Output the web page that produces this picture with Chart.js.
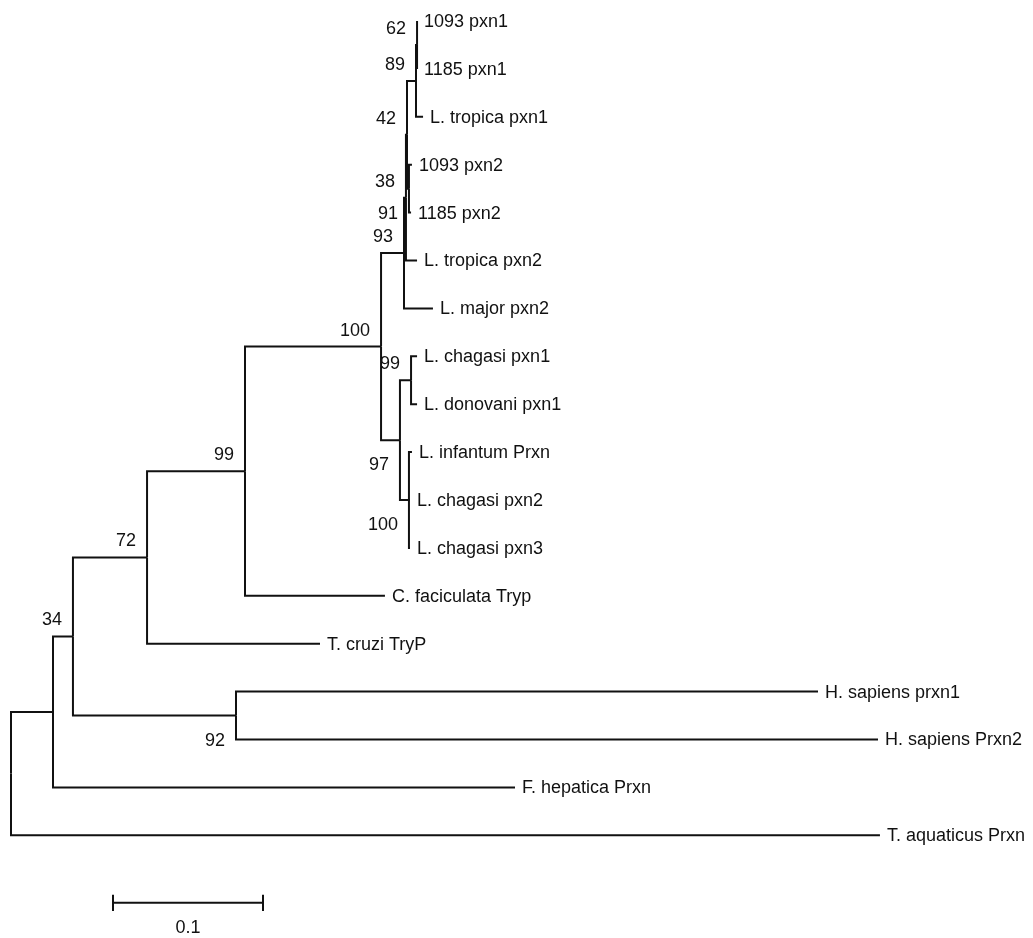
<!DOCTYPE html>
<html>
<head>
<meta charset="utf-8">
<script src="https://cdn.jsdelivr.net/npm/chart.js@4.4.1/dist/chart.umd.min.js"></script>
<style>
  html,body{margin:0;padding:0;background:#fff;}
  #wrap{position:relative;width:1033px;height:938px;}
</style>
</head>
<body>
<div id="wrap"><canvas id="tree"></canvas></div>
<script>
// leaves, top to bottom (row index = position in this list)
const leafNames = [
  '1093 pxn1', '1185 pxn1', 'L. tropica pxn1', '1093 pxn2', '1185 pxn2',
  'L. tropica pxn2', 'L. major pxn2', 'L. chagasi pxn1', 'L. donovani pxn1',
  'L. infantum Prxn', 'L. chagasi pxn2', 'L. chagasi pxn3', 'C. faciculata Tryp',
  'T. cruzi TryP', 'H. sapiens prxn1', 'H. sapiens Prxn2', 'F. hepatica Prxn',
  'T. aquaticus Prxn'
];
const leafParents = ['N62','N62','N89','R','R','P','F','G1','G1','G2','G2','G2','D','C','H','H','A','root'];
// distance from the root to each tip
const leafDepths = [
  0.2707, 0.2707, 0.2747, 0.2673, 0.2667, 0.2707, 0.2813, 0.2707, 0.2707,
  0.2673, 0.266, 0.266, 0.2493, 0.206, 0.538, 0.578, 0.336, 0.5793
];

// internal nodes
const nodeIds     = ['root','A','B','C','D','E','F','P','Q','N89','N62','R','G','G1','G2','H'];
const nodeParents = [null,'root','A','B','C','D','E','F','P','Q','N89','Q','E','G','G','B'];
const nodeDepths  = [0, 0.028, 0.0413, 0.0907, 0.156, 0.2467, 0.262, 0.2633, 0.264, 0.27, 0.2707, 0.2653, 0.2593, 0.2667, 0.2653, 0.15];
const bootstrap   = [null, null, 34, 72, 99, 100, 93, 38, 42, 89, 62, 91, 97, 99, 100, 92];
const labelBelow  = ['G','G2','H','R'];

const scaleBarStart = 0.068;
const scaleBarLength = 0.1;
const scaleBarLabel = '0.1';

// ---- layout helpers ----
const PX_PER_UNIT = 1500, LEFT_PX = 11, ROW_PX = 47.9, TOP_PX = 21;
const W = 1033, H = 938;
const scaleBarRow = 18.41;

// y of each node: midpoint of its outermost children
const nodeY = {};
function childrenOf(id){
  const kids = [];
  nodeIds.forEach((n,i)=>{ if(nodeParents[i] === id) kids.push({type:'node', id:n}); });
  leafParents.forEach((p,i)=>{ if(p === id) kids.push({type:'leaf', i}); });
  return kids;
}
function yOf(id){
  if(nodeY[id] !== undefined) return nodeY[id];
  const ys = childrenOf(id).map(k => k.type === 'leaf' ? k.i : yOf(k.id));
  nodeY[id] = (Math.min(...ys) + Math.max(...ys)) / 2;
  return nodeY[id];
}
nodeIds.forEach(yOf);
const depthOf = id => nodeDepths[nodeIds.indexOf(id)];

const lineStyle = { showLine:true, borderColor:'#111', borderWidth:2, pointRadius:0, fill:false, tension:0 };
const datasets = [];
// one elbow per branch: along the parent's vertical, then across to the child
nodeIds.forEach((id,i)=>{
  const p = nodeParents[i];
  if(!p) return;
  datasets.push({ ...lineStyle, data:[{x:depthOf(p), y:yOf(p)}, {x:depthOf(p), y:yOf(id)}, {x:nodeDepths[i], y:yOf(id)}] });
});
leafParents.forEach((p,i)=>{
  datasets.push({ ...lineStyle, data:[{x:depthOf(p), y:yOf(p)}, {x:depthOf(p), y:i}, {x:leafDepths[i], y:i}] });
});
// scale bar
const sb0 = scaleBarStart, sb1 = scaleBarStart + scaleBarLength;
datasets.push({ ...lineStyle, data:[{x:sb0, y:scaleBarRow}, {x:sb1, y:scaleBarRow}] });
datasets.push({ ...lineStyle, data:[{x:sb0, y:scaleBarRow-0.17}, {x:sb0, y:scaleBarRow+0.17}] });
datasets.push({ ...lineStyle, data:[{x:sb1, y:scaleBarRow-0.17}, {x:sb1, y:scaleBarRow+0.17}] });

const FONT = '18px "Liberation Sans", Arial, sans-serif';

const treeLabels = {
  id:'treeLabels',
  afterDatasetsDraw(chart){
    const {ctx, scales:{x, y}} = chart;
    ctx.save();
    ctx.fillStyle = '#111';
    ctx.font = FONT;
    ctx.textBaseline = 'middle';
    ctx.textAlign = 'left';
    leafNames.forEach((name,i)=>{
      ctx.fillText(name, x.getPixelForValue(leafDepths[i]) + 7, y.getPixelForValue(i) + 1);
    });
    ctx.textAlign = 'right';
    nodeIds.forEach((id,i)=>{
      if(bootstrap[i] == null) return;
      const px = x.getPixelForValue(nodeDepths[i]) - 11;
      const py = y.getPixelForValue(yOf(id)) + (labelBelow.includes(id) ? 25 : -16);
      ctx.fillText(String(bootstrap[i]), px, py);
    });
    ctx.textAlign = 'center';
    ctx.fillText(scaleBarLabel, x.getPixelForValue((sb0+sb1)/2), y.getPixelForValue(scaleBarRow) + 25);
    ctx.restore();
  }
};

new Chart(document.getElementById('tree'), {
  type:'scatter',
  data:{ datasets },
  options:{
    responsive:true,
    maintainAspectRatio:false,
    animation:false,
    layout:{ padding:0 },
    plugins:{ legend:{display:false}, tooltip:{enabled:false} },
    scales:{
      x:{ type:'linear', display:false, min:-LEFT_PX/PX_PER_UNIT, max:(W-LEFT_PX)/PX_PER_UNIT },
      y:{ type:'linear', display:false, reverse:true, min:-TOP_PX/ROW_PX, max:(H-TOP_PX)/ROW_PX }
    }
  },
  plugins:[treeLabels]
});
</script>
</body>
</html>
